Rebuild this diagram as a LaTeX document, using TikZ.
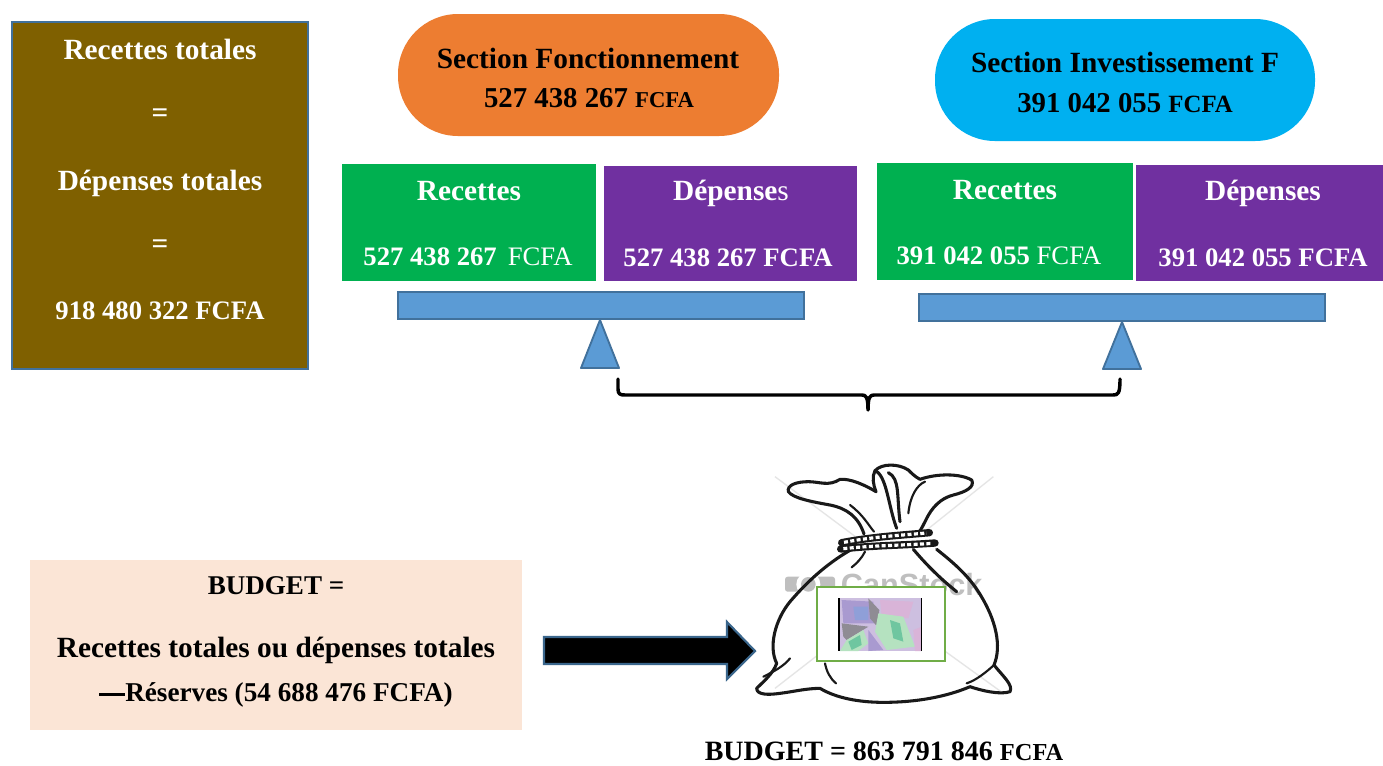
\documentclass[tikz,border=0pt]{standalone}
\usepackage{fontspec}
\setmainfont{Liberation Serif}
\newfontfamily\wmfont{Liberation Sans}
\definecolor{olivebox}{HTML}{7F6000}
\definecolor{oliveedge}{HTML}{41719C}
\definecolor{orangebox}{HTML}{ED7D31}
\definecolor{bluebox}{HTML}{00B0F0}
\definecolor{greenbox}{HTML}{00B050}
\definecolor{purplebox}{HTML}{7030A0}
\definecolor{beamblue}{HTML}{5B9BD5}
\definecolor{peachbox}{HTML}{FBE5D6}
\definecolor{framegreen}{HTML}{70AD47}
\definecolor{notelilac}{HTML}{CDBFE0}
\definecolor{notedeep}{HTML}{A99AD0}
\definecolor{notepink}{HTML}{D9B4D8}
\definecolor{noteblue}{HTML}{8F9FD8}
\definecolor{notegreen}{HTML}{B5E2C0}
\definecolor{notegreentwo}{HTML}{6FC6A0}
\definecolor{noteshade}{HTML}{8F8C94}
\def\u{0.75pt}
\def\wordsize{\fontsize{22}{24}\selectfont}
\def\numsize{\fontsize{20}{22}\selectfont}
\tikzset{
  x=0.75pt,y=-0.75pt,
  panel/.style={inner sep=0pt,outer sep=0pt,rectangle},
  pill/.style={panel,rounded corners=45pt},
  beam/.style={draw=oliveedge,line width=1.4pt,fill=beamblue},
  wlab/.style={text=white,font=\wordsize\bfseries,inner sep=0pt},
  wnum/.style={text=white,font=\numsize\bfseries,inner sep=0pt},
  blab/.style={text=black,font=\wordsize\bfseries,inner sep=0pt},
  ink/.style={line width=2.3pt,line cap=round,line join=round,draw=black!90},
  thinink/.style={line width=1.6pt,line cap=round,draw=black!90},
}
\begin{document}
\begin{tikzpicture}
\useasboundingbox[fill=white] (0,0) rectangle (1383,765);

% left panel
\node[panel,fill=olivebox,draw=oliveedge,line width=1.5pt,minimum width=296*\u,minimum height=347*\u] (total) at (160,195.5) {};
\node[wlab] (t1) at (160,49) {Recettes totales};
\node[wlab] (t2) at (160,116) {=};
\node[wlab] (t3) at (160,183) {Dépenses totales};
\node[wlab] (t4) at (160,247) {=};
\node[wnum] (t5) at (160,311) {918 480 322 FCFA};

% section heads
\node[pill,fill=orangebox,minimum width=381*\u,minimum height=122*\u] (fonc) at (588.5,75) {};
\node[blab] (f1) at (588,58) {Section Fonctionnement};
\node[blab] (f2) at (589,98) {\fontsize{21.6}{22}\selectfont 527 438 267 \fontsize{17}{18}\selectfont FCFA};
\node[pill,fill=bluebox,minimum width=380*\u,minimum height=122*\u] (inv) at (1125,80) {};
\node[blab] (i1) at (1125,62) {Section Investissement F};
\node[blab] (i2) at (1125,103) {\fontsize{21.6}{22}\selectfont 391 042 055 \fontsize{18.6}{20}\selectfont FCFA};

% recettes / depenses
\node[panel,fill=greenbox,minimum width=254*\u,minimum height=117*\u] (r1) at (469,222.5) {};
\node[panel,fill=purplebox,minimum width=253*\u,minimum height=115*\u] (d1) at (730.5,223.5) {};
\node[panel,fill=greenbox,minimum width=256*\u,minimum height=117*\u] (r2) at (1005,221.5) {};
\node[panel,fill=purplebox,minimum width=247*\u,minimum height=116*\u] (d2) at (1259.5,223) {};
\node[wlab] (r1a) at (469,191) {Recettes};
\node[wnum] (r1b) at (468,257) {527 438 267 \,\mdseries FCFA};
\node[wlab] (d1a) at (731,193) {Dépense\mdseries s};
\node[wnum] (d1b) at (728,258) {527 438 267 FCFA};
\node[wlab] (r2a) at (1005,190) {Recettes};
\node[wnum] (r2b) at (999,256) {391 042 055 \mdseries FCFA};
\node[wlab] (d2a) at (1263,193) {Dépenses};
\node[wnum] (d2b) at (1263,258) {391 042 055 FCFA};

% balances
\node[panel,beam,minimum width=406*\u,minimum height=27*\u] (b1) at (601,305.5) {};
\node[panel,beam,minimum width=406*\u,minimum height=27*\u] (b2) at (1122,307.5) {};
\draw[beam,line join=round] (600,320) -- (619,368) -- (581,368) -- cycle;
\draw[beam,line join=round] (1122,322) -- (1141,369) -- (1103,369) -- cycle;

% brace
\coordinate (bl) at (618,379);
\coordinate (br) at (1120,379);
\coordinate (bm) at (868,410);
\draw[line width=2.6pt,line cap=round,line join=round]
  (bl) -- (618,389) .. controls (618,394) and (620,395) .. (625,395)
  -- (862,395) .. controls (866,395) and (868,397) .. (bm)
  .. controls (868,397) and (870,395) .. (874,395)
  -- (1113,395) .. controls (1118,395) and (1120,394) .. (br);

% budget panel
\node[panel,fill=peachbox,minimum width=492*\u,minimum height=170*\u] (bud) at (276,645) {};
\node[blab,font=\fontsize{20.3}{22}\selectfont\bfseries] (bu1) at (276,586) {BUDGET =};
\node[blab] (bu2) at (276,650) {Recettes totales ou dépenses totales};
\node[blab,font=\fontsize{20.4}{22}\selectfont\bfseries] (bu3) at (276,695) {\raisebox{0.22em}{\rule{0.95em}{0.11em}}Réserves (54 688 476 FCFA)};

% arrow
\coordinate (as) at (544,651);
\coordinate (at) at (755,651);
\draw[fill=black,draw=oliveedge!90!black,line width=1.6pt,line join=miter]
  (544,637) -- (727,637) -- (727,622) -- (at) -- (727,679) -- (727,664) -- (544,664) -- cycle;

% bag (coordinates read off at 3x)
\begin{scope}[shift={(740,450)},x=0.25pt,y=-0.25pt]
  % watermark
  \draw[black!10,line width=1pt] (105,80) -- (400,300);
  \draw[black!10,line width=1pt] (760,80) -- (560,240);
  \draw[black!10,line width=1pt] (610,600) -- (790,730);
  \draw[black!10,line width=1pt] (240,610) -- (105,715);
  \node[inner sep=0pt,text=black!25,font=\wmfont\bfseries\fontsize{23}{25}\selectfont] (wm) at (515,405) {CanStock};
  \fill[black!25,rounded corners=2pt] (135,380) rectangle (285,425);
  \fill[white] (205,403) circle (9pt);
  \fill[black!25] (205,403) circle (5.5pt);
  % ears and neck
  \draw[ink] (372,252) .. controls (355,200) and (320,175) .. (270,165)
    .. controls (215,155) and (160,145) .. (145,125)
    .. controls (140,105) and (170,95) .. (205,95)
    .. controls (240,95) and (265,110) .. (300,88)
    .. controls (330,85) and (375,105) .. (408,125);
  \draw[ink] (408,125) .. controls (400,105) and (395,80) .. (405,62)
    .. controls (425,40) and (475,40) .. (505,60)
    .. controls (515,70) and (525,80) .. (540,88)
    .. controls (590,70) and (660,70) .. (695,90)
    .. controls (705,110) and (680,125) .. (640,135)
    .. controls (600,145) and (575,175) .. (560,205)
    .. controls (550,225) and (545,235) .. (540,242);
  \draw[ink] (405,62) .. controls (440,75) and (445,170) .. (470,235);
  \draw[ink] (445,68) .. controls (480,85) and (470,140) .. (480,215);
  \draw[thinink] (330,165) .. controls (370,195) and (385,225) .. (402,245);
  \draw[thinink] (505,190) .. controls (510,140) and (530,105) .. (555,95);
  % body
  \draw[ink] (335,298) .. controls (270,335) and (210,385) .. (150,455)
    .. controls (105,510) and (85,590) .. (110,640)
    .. controls (100,670) and (70,695) .. (50,715)
    .. controls (50,735) and (85,735) .. (120,730)
    .. controls (160,725) and (200,715) .. (240,715)
    .. controls (290,745) and (360,757) .. (430,757)
    .. controls (530,757) and (620,740) .. (690,710)
    .. controls (725,722) and (780,735) .. (810,725)
    .. controls (820,705) and (790,680) .. (762,645)
    .. controls (785,590) and (770,510) .. (715,425)
    .. controls (680,370) and (630,330) .. (590,298);
  \draw[thinink] (375,305) .. controls (365,325) and (350,340) .. (335,352);
  \draw[ink] (520,298) .. controls (560,345) and (600,385) .. (650,425);
  \draw[thinink] (255,640) .. controls (260,665) and (270,685) .. (288,700);
  \draw[thinink] (70,680) .. controls (100,665) and (130,650) .. (150,625);
  \draw[thinink] (680,700) .. controls (710,690) and (740,665) .. (762,645);
  % rope
  \draw[line width=5.5pt,line cap=round,black!90] (305,278) .. controls (400,260) and (480,256) .. (568,248);
  \draw[line width=5.5pt,line cap=round,black!90] (302,297) .. controls (400,286) and (490,286) .. (585,279);
  \draw[white,line width=2.4pt,dash pattern=on 3pt off 1.8pt] (312,277) .. controls (400,260) and (480,256) .. (560,249);
  \draw[white,line width=2.4pt,dash pattern=on 3pt off 1.8pt] (310,296) .. controls (400,286) and (490,286) .. (578,280);
\end{scope}

% framed picture of banknotes
\node[panel,fill=white,draw=framegreen,line width=1.9pt,minimum width=128*\u,minimum height=74*\u] (frame) at (881,624) {};
\begin{scope}[shift={(740,450)},x=0.25pt,y=-0.25pt]
  \fill[notelilac] (297,445) rectangle (545,603);
  \fill[notedeep] (305,450) -- (400,455) -- (405,520) -- (310,520) -- cycle;
  \fill[noteblue] (340,470) -- (385,470) -- (385,510) -- (345,510) -- cycle;
  \fill[noteshade] (385,445) -- (418,480) -- (412,530) -- (390,505) -- cycle;
  \fill[notepink] (420,450) -- (520,455) -- (505,505) -- (425,495) -- cycle;
  \fill[noteshade] (305,520) -- (385,530) -- (320,570) -- (310,560) -- cycle;
  \fill[notegreen] (415,490) -- (490,500) -- (525,590) -- (440,600) -- (405,545) -- cycle;
  \fill[notegreentwo] (450,510) -- (480,520) -- (490,575) -- (460,565) -- cycle;
  \fill[notegreen] (320,570) -- (370,540) -- (385,580) -- (355,603) -- (300,603) -- cycle;
  \fill[notegreentwo] (325,575) -- (360,555) -- (365,585) -- (335,600) -- cycle;
  \fill[notedeep] (385,540) -- (430,600) -- (385,603) -- cycle;
  \fill[notepink] (520,540) -- (545,530) -- (545,603) -- (525,603) -- cycle;
  \draw[black,line width=0.8pt] (297,445) -- (297,603) (545,445) -- (545,603);
\end{scope}

% result
\node[blab,font=\fontsize{21}{23}\selectfont\bfseries] (res) at (884,751) {BUDGET = 863 791 846 \fontsize{18.3}{20}\selectfont FCFA};
\end{tikzpicture}
\end{document}
